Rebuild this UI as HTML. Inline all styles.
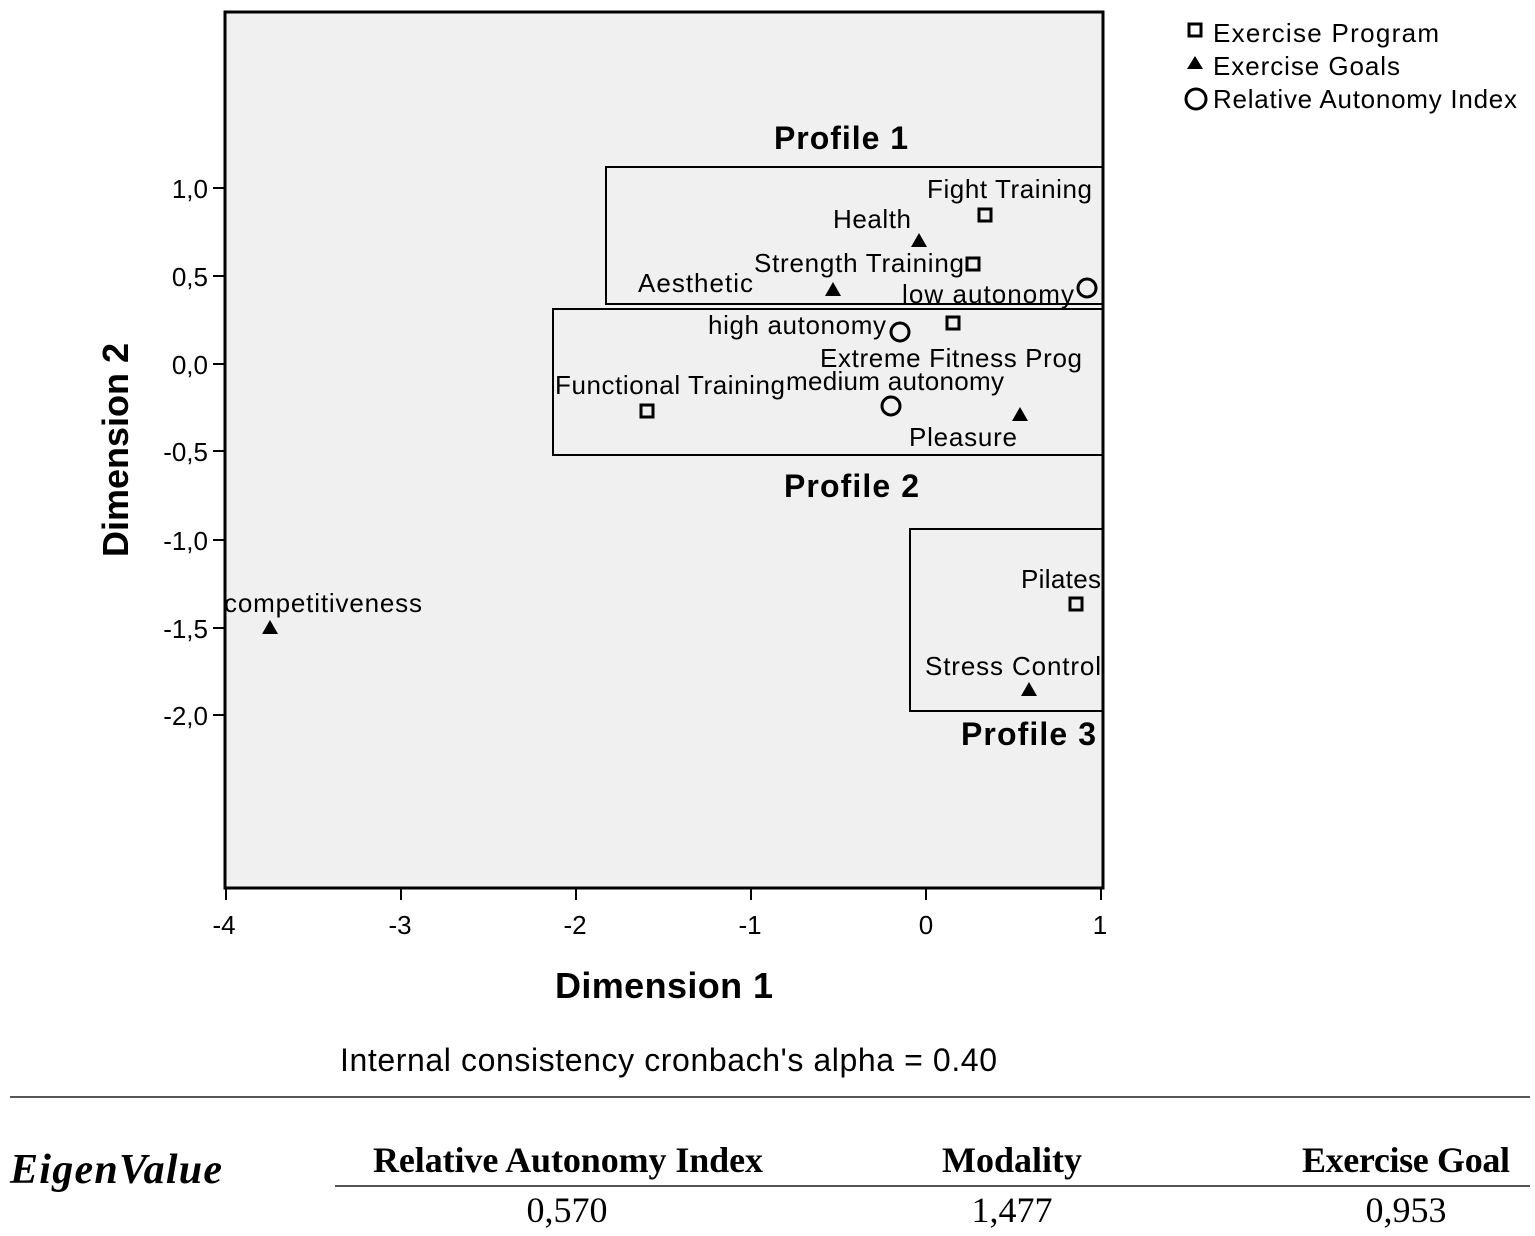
<!DOCTYPE html>
<html><head><meta charset="utf-8"><style>
body{margin:0;background:#fff;}
svg{display:block;font-family:"Liberation Sans",sans-serif;}
</style></head><body>
<svg width="1535" height="1236" viewBox="0 0 1535 1236" xmlns="http://www.w3.org/2000/svg">
<rect x="225" y="12" width="878" height="876" fill="#f0f0f0" stroke="#000" stroke-width="3"/>
<g stroke="#000" stroke-width="2">
<line x1="213" y1="188" x2="225" y2="188"/><line x1="213" y1="276" x2="225" y2="276"/>
<line x1="213" y1="364" x2="225" y2="364"/><line x1="213" y1="451" x2="225" y2="451"/>
<line x1="213" y1="540" x2="225" y2="540"/><line x1="213" y1="628" x2="225" y2="628"/>
<line x1="213" y1="715" x2="225" y2="715"/>
<line x1="226" y1="888" x2="226" y2="900"/><line x1="401" y1="888" x2="401" y2="900"/>
<line x1="576" y1="888" x2="576" y2="900"/><line x1="751" y1="888" x2="751" y2="900"/>
<line x1="926" y1="888" x2="926" y2="900"/><line x1="1101" y1="888" x2="1101" y2="900"/>
</g>
<g font-size="26" text-anchor="end" fill="#000">
<text x="208" y="198">1,0</text><text x="208" y="286">0,5</text><text x="208" y="374">0,0</text>
<text x="208" y="461">-0,5</text><text x="208" y="550">-1,0</text><text x="208" y="638">-1,5</text>
<text x="208" y="725">-2,0</text>
</g>
<g font-size="26" text-anchor="middle">
<text x="224" y="934">-4</text><text x="400" y="934">-3</text><text x="575" y="934">-2</text>
<text x="750" y="934">-1</text><text x="926" y="934">0</text><text x="1100" y="934">1</text>
</g>
<text x="555" y="998" font-size="36" font-weight="bold" textLength="218">Dimension 1</text>
<text transform="translate(128,450) rotate(-90)" font-size="36" font-weight="bold" text-anchor="middle">Dimension 2</text>
<g fill="none" stroke="#000" stroke-width="2">
<rect x="606" y="167" width="497" height="137"/>
<rect x="553" y="309" width="550" height="146"/>
<rect x="910" y="529" width="193" height="182"/>
</g>
<g font-size="32" font-weight="bold">
<text x="774" y="149" textLength="134">Profile 1</text><text x="784" y="497" textLength="135">Profile 2</text><text x="961" y="745" textLength="135">Profile 3</text>
</g>
<g fill="none" stroke="#000" stroke-width="3">
<rect x="979" y="209" width="12" height="12"/><rect x="967" y="258" width="12" height="12"/>
<rect x="947" y="317" width="12" height="12"/><rect x="641" y="405" width="12" height="12"/>
<rect x="1070" y="598" width="12" height="12"/>
<circle cx="900" cy="332" r="9"/><circle cx="1087" cy="288" r="9"/><circle cx="891" cy="406" r="9"/>
</g>
<g fill="#000">
<polygon points="919,233 911,247 927,247"/><polygon points="833,282 825,296 841,296"/>
<polygon points="1020,407 1012,421 1028,421"/><polygon points="1029,682 1021,696 1037,696"/>
<polygon points="270,620 262,634 278,634"/>
</g>
<g font-size="26">
<text x="927" y="198" textLength="165">Fight Training</text>
<text x="833" y="228" textLength="78">Health</text>
<text x="754" y="272" textLength="210">Strength Training</text>
<text x="638" y="292" textLength="115">Aesthetic</text>
<text x="902" y="303" textLength="172">low autonomy</text>
<text x="708" y="334" textLength="178">high autonomy</text>
<text x="820" y="367" textLength="262">Extreme Fitness Prog</text>
<text x="555" y="394" textLength="230">Functional Training</text>
<text x="786" y="390" textLength="218">medium autonomy</text>
<text x="909" y="446" textLength="108">Pleasure</text>
<text x="1021" y="588" textLength="80">Pilates</text>
<text x="925" y="675" textLength="176">Stress Control</text>
<text x="224" y="612" textLength="198">competitiveness</text>
</g>
<g font-size="26">
<rect x="1189" y="24" width="12" height="12" fill="none" stroke="#000" stroke-width="3"/>
<text x="1213" y="42" textLength="226">Exercise  Program</text>
<polygon points="1195,56 1187,69 1203,69" fill="#000"/>
<text x="1213" y="75" textLength="187">Exercise Goals</text>
<circle cx="1196" cy="99" r="10" fill="none" stroke="#000" stroke-width="3"/>
<text x="1213" y="108" textLength="304">Relative Autonomy Index</text>
</g>
<text x="340" y="1071" font-size="32" textLength="657">Internal consistency cronbach's alpha = 0.40</text>
<line x1="10" y1="1097" x2="1530" y2="1097" stroke="#555" stroke-width="2"/>
<line x1="335" y1="1186" x2="1530" y2="1186" stroke="#555" stroke-width="2"/>
<g font-family="Liberation Serif,serif" font-size="36">
<text x="10" y="1183" font-weight="bold" font-style="italic" font-size="42" textLength="212">EigenValue</text>
<text x="373" y="1172" font-weight="bold" textLength="390">Relative Autonomy Index</text>
<text x="942" y="1172" font-weight="bold" textLength="140">Modality</text>
<text x="1302" y="1172" font-weight="bold" textLength="208">Exercise Goal</text>
<text x="567" y="1222" text-anchor="middle">0,570</text>
<text x="1012" y="1222" text-anchor="middle">1,477</text>
<text x="1406" y="1222" text-anchor="middle">0,953</text>
</g>
</svg>
</body></html>
